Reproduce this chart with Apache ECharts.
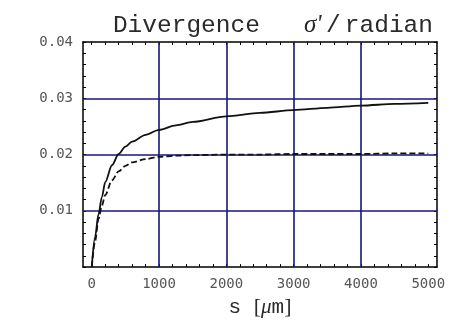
<!DOCTYPE html>
<html>
<head>
<meta charset="utf-8">
<script src="https://cdn.jsdelivr.net/npm/echarts@6/dist/echarts.min.js"></script>
<style>html,body{margin:0;padding:0;background:#fff}#c{width:464px;height:323px}</style>
</head>
<body>
<div id="c"></div>
<script>
const sPos = [0, 50, 100, 150, 200, 300, 400, 500, 600, 800, 1000, 1250, 1500, 2000, 2500, 3000, 3500, 4000, 4500, 5000];
const solidDiv = [0, 0.0054, 0.0094, 0.0124, 0.0151, 0.0181, 0.0201, 0.0214, 0.0223, 0.0235, 0.0244, 0.0252, 0.0258, 0.0268, 0.0274, 0.0279, 0.0283, 0.0287, 0.0290, 0.0292];
const dashedDiv = [0, 0.0046, 0.0085, 0.0109, 0.0128, 0.0154, 0.0170, 0.0180, 0.0186, 0.0192, 0.0196, 0.0198, 0.0199, 0.0200, 0.0200, 0.0201, 0.0201, 0.0201, 0.0202, 0.0202];
const xLabels = [0, 1000, 2000, 3000, 4000, 5000];
const yLabels = [0.01, 0.02, 0.03, 0.04];
const xGrid = [1000, 2000, 3000, 4000];
const yGrid = [0.01, 0.02, 0.03];
const xTicks = [];
for (let v = 0; v <= 5000; v += 200) xTicks.push(v);

const chart = echarts.init(document.getElementById('c'), null, {renderer: 'canvas'});
const navy = '#16167e';
const frame = {show: true, onZero: false, lineStyle: {color: '#000', width: 1.5}};
const tick = {show: true, inside: true, length: 3, lineStyle: {color: '#000', width: 1}};
const labelFont = {fontFamily: 'DejaVu Sans Mono', fontSize: 14, color: '#555'};

chart.setOption({
  animation: false,
  title: {
    text: '{a|Divergence   }{s|σ\'}{g| }{a|/}{g| }{a|radian}',
    right: 26, top: 8,
    textStyle: {
      fontWeight: 'normal',
      rich: {
        a: {fontFamily: 'Liberation Mono', fontSize: 24.5, fontWeight: 'normal', color: '#2a2a2a'},
        g: {fontFamily: 'Liberation Mono', fontSize: 7, fontWeight: 'normal', color: '#2a2a2a'},
        s: {fontFamily: 'Liberation Serif', fontStyle: 'italic', fontWeight: 'normal', fontSize: 25, color: '#2a2a2a'}
      }
    }
  },
  grid: {left: 83, right: 27, top: 42, bottom: 50},
  xAxis: [{
    type: 'value', min: -130, max: 5130, position: 'bottom',
    axisLine: frame,
    axisTick: Object.assign({}, tick, {customValues: xTicks}),
    axisLabel: Object.assign({}, labelFont, {customValues: xLabels, margin: 10, formatter: v => String(v)}),
    splitLine: {show: false},
    name: '{a|s }{b|[}{m|μ}{a|m}{b|]}',
    nameLocation: 'middle', nameGap: 27,
    nameTextStyle: {
      rich: {
        a: {fontFamily: 'Liberation Mono', fontSize: 21, color: '#2a2a2a'},
        b: {fontFamily: 'Liberation Serif', fontSize: 22, color: '#2a2a2a'},
        m: {fontFamily: 'Liberation Serif', fontStyle: 'italic', fontSize: 21, color: '#2a2a2a'}
      }
    }
  }, {
    type: 'value', min: -130, max: 5130, position: 'top',
    axisLine: frame,
    axisTick: Object.assign({}, tick, {customValues: xTicks}),
    axisLabel: {show: false},
    splitLine: {show: false}
  }],
  yAxis: [{
    type: 'value', min: 0, max: 0.04, interval: 0.002, position: 'left',
    axisLine: frame,
    axisTick: tick,
    axisLabel: Object.assign({}, labelFont, {customValues: yLabels, margin: 10, formatter: v => v.toFixed(2)}),
    splitLine: {show: false}
  }, {
    type: 'value', min: 0, max: 0.04, interval: 0.002, position: 'right',
    axisLine: frame,
    axisTick: tick,
    axisLabel: {show: false},
    splitLine: {show: false}
  }],
  series: [{
    type: 'line', name: 'grid', data: [],
    markLine: {
      silent: true, symbol: ['none', 'none'], label: {show: false},
      lineStyle: {color: navy, width: 1.6, type: 'solid'},
      data: xGrid.map(v => ({xAxis: v})).concat(yGrid.map(v => ({yAxis: v})))
    }
  }, {
    type: 'line', name: 'solid', showSymbol: false, smooth: 0.3, smoothMonotone: 'x',
    data: sPos.map((x, i) => [x, solidDiv[i]]),
    lineStyle: {color: '#111', width: 1.8}, z: 5
  }, {
    type: 'line', name: 'dashed', showSymbol: false, smooth: 0.3, smoothMonotone: 'x',
    data: sPos.map((x, i) => [x, dashedDiv[i]]),
    lineStyle: {color: '#111', width: 1.8, type: [6, 3]}, z: 5
  }]
});
</script>
</body>
</html>
